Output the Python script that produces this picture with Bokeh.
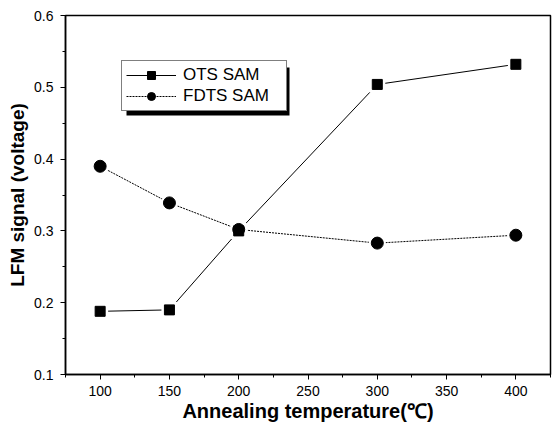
from bokeh.plotting import figure
from bokeh.models import (Range1d, FixedTicker, Legend, LegendItem,
                          BoxAnnotation)
from bokeh.embed import file_html
from bokeh.resources import INLINE

temps = [100, 150, 200, 300, 400]
ots = [0.188, 0.190, 0.300, 0.504, 0.532]
fdts = [0.390, 0.339, 0.302, 0.283, 0.294]
series_names = ["OTS SAM", "FDTS SAM"]
x_ticks = [100, 150, 200, 250, 300, 350, 400]
x_minor = [75, 125, 175, 225, 275, 325, 375, 425]
y_ticks = [0.1, 0.2, 0.3, 0.4, 0.5, 0.6]
y_minor = [0.15, 0.25, 0.35, 0.45, 0.55]
y_tick_labels = {0.1: "0.1", 0.2: "0.2", 0.3: "0.3", 0.4: "0.4", 0.5: "0.5", 0.6: "0.6"}
x_title = "Annealing temperature(\u2103)"
y_title = "LFM signal (voltage)"

p = figure(frame_width=485, frame_height=359, output_backend="svg",
           toolbar_location=None, x_range=Range1d(75, 425),
           y_range=Range1d(0.1, 0.6), min_border_left=65, min_border_top=15,
           min_border_right=7, min_border_bottom=48)
p.background_fill_color = "white"
p.border_fill_color = "white"
p.outline_line_color = "black"
p.outline_line_width = 1.5
p.xgrid.visible = False
p.ygrid.visible = False

p.xaxis.ticker = FixedTicker(ticks=x_ticks, minor_ticks=x_minor)
p.yaxis.ticker = FixedTicker(ticks=y_ticks, minor_ticks=y_minor)
p.yaxis.major_label_overrides = y_tick_labels
for ax in (p.xaxis[0], p.yaxis[0]):
    ax.axis_line_color = "black"
    ax.axis_line_width = 1.5
    ax.major_tick_line_color = "black"
    ax.minor_tick_line_color = "black"
    ax.major_tick_out = 5
    ax.major_tick_in = 0
    ax.minor_tick_out = 3
    ax.minor_tick_in = 0
    ax.major_label_text_font = "Liberation Sans Narrow, Liberation Sans"
    ax.major_label_text_font_size = "14px"
    ax.major_label_text_color = "black"
    ax.axis_label_text_font = "Liberation Sans"
    ax.axis_label_text_font_style = "bold"
    ax.axis_label_text_color = "black"
p.xaxis.axis_label_text_font_size = "20px"
p.yaxis.axis_label_text_font_size = "19px"
p.xaxis.axis_label = x_title
p.yaxis.axis_label = y_title
p.xaxis.major_label_standoff = 6
p.xaxis.axis_label_standoff = 1
p.yaxis.major_label_standoff = 7
p.yaxis.axis_label_standoff = 3

l1 = p.line(temps, ots, line_color="black", line_width=1)
l2 = p.line(temps, fdts, line_color="black", line_width=1, line_dash="2 1")
# white halos give the small gap between lines and markers
p.scatter(temps, ots, marker="square", size=16, fill_color="white", line_color=None)
p.scatter(temps, fdts, marker="circle", size=17, fill_color="white", line_color=None)
m1 = p.scatter(temps, ots, marker="square", size=10, fill_color="black", line_color="black")
m2 = p.scatter(temps, fdts, marker="circle", size=12, fill_color="black", line_color="black")

shadow = BoxAnnotation(left=126, right=289, top=67, bottom=115,
                       left_units="canvas", right_units="canvas",
                       top_units="canvas", bottom_units="canvas",
                       fill_color="black", fill_alpha=1.0, line_color=None,
                       level="overlay")
p.add_layout(shadow)

legend = Legend(items=[LegendItem(label=series_names[0], renderers=[l1, m1]),
                       LegendItem(label=series_names[1], renderers=[l2, m2])],
                location=(56, 263), margin=0, padding=4, spacing=1,
                glyph_width=50, glyph_height=20, label_height=16,
                label_width=99, label_standoff=7,
                label_text_font="Liberation Sans", label_text_font_size="17px",
                label_text_color="black", border_line_color="black",
                border_line_width=1.5, background_fill_color="white",
                background_fill_alpha=1.0)
p.add_layout(legend)

open("out.html", "w").write(file_html(p, INLINE))
